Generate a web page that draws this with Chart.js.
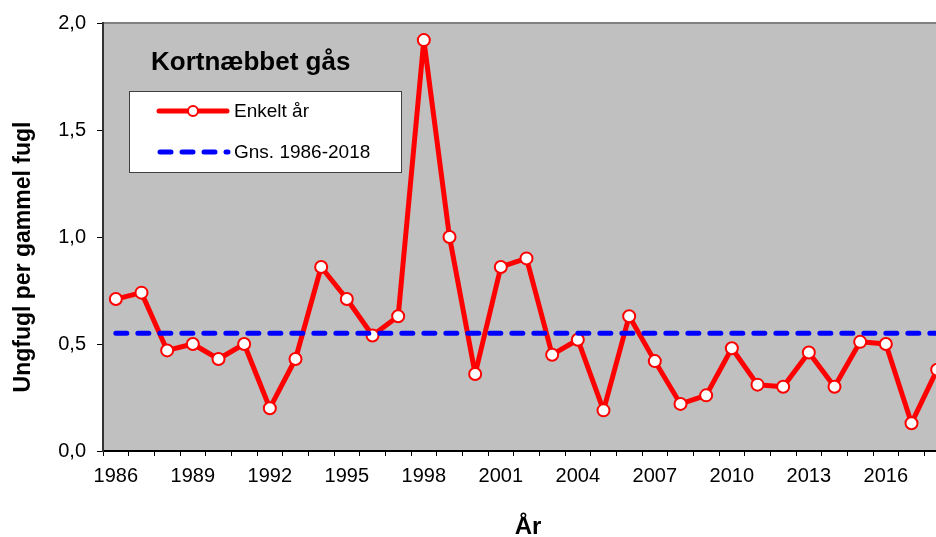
<!DOCTYPE html>
<html>
<head>
<meta charset="utf-8">
<script src="https://cdn.jsdelivr.net/npm/chart.js@4"></script>
<style>
html,body{margin:0;padding:0;background:#fff;overflow:hidden;}
#wrap{width:936px;height:537px;overflow:hidden;position:relative;}
canvas{display:block;}
</style>
</head>
<body>
<div id="wrap"><canvas id="c" width="960" height="537"></canvas></div>
<script>
const years = [1986,1987,1988,1989,1990,1991,1992,1993,1994,1995,1996,1997,1998,1999,2000,2001,2002,2003,2004,2005,2006,2007,2008,2009,2010,2011,2012,2013,2014,2015,2016,2017,2018];
const enkeltAar = [0.71,0.74,0.47,0.50,0.43,0.50,0.20,0.43,0.86,0.71,0.54,0.63,1.92,1.00,0.36,0.86,0.90,0.45,0.52,0.19,0.63,0.42,0.22,0.26,0.48,0.31,0.30,0.46,0.30,0.51,0.50,0.13,0.38];
const gennemsnit = 0.55;
const gnsSeries = years.map(() => gennemsnit);
const chartTitle = 'Kortnæbbet gås';
const seriesNames = ['Enkelt år', 'Gns. 1986-2018'];
const yTitle = 'Ungfugl per gammel fugl';
const xTitle = 'År';
const yTicks = [0, 0.5, 1.0, 1.5, 2.0];

const FONT = "'Liberation Sans', Arial, sans-serif";

const decor = {
  id: 'decor',
  beforeDraw(chart) {
    const {ctx, chartArea: a} = chart;
    ctx.save();
    ctx.fillStyle = '#C0C0C0';
    ctx.fillRect(a.left, a.top, a.right - a.left, a.bottom - a.top);
    ctx.strokeStyle = '#808080';
    ctx.lineWidth = 2;
    ctx.beginPath();
    ctx.moveTo(a.left, a.top);
    ctx.lineTo(a.right, a.top);
    ctx.lineTo(a.right, a.bottom);
    ctx.stroke();
    ctx.restore();
  },
  afterDraw(chart) {
    const {ctx, chartArea: a} = chart;
    const ds = chart.data.datasets;
    ctx.save();
    // title
    ctx.fillStyle = '#000';
    ctx.font = 'bold 26px ' + FONT;
    ctx.textBaseline = 'middle';
    ctx.textAlign = 'left';
    ctx.fillText(chartTitle, 151, 63);
    // legend box
    ctx.fillStyle = '#fff';
    ctx.fillRect(129.5, 91.5, 272, 81);
    ctx.strokeStyle = '#404040';
    ctx.lineWidth = 1;
    ctx.strokeRect(129.5, 91.5, 272, 81);
    // legend entry 1
    ctx.lineCap = 'round';
    ctx.strokeStyle = ds[0].borderColor;
    ctx.lineWidth = ds[0].borderWidth;
    ctx.beginPath(); ctx.moveTo(159, 111); ctx.lineTo(227, 111); ctx.stroke();
    ctx.beginPath(); ctx.arc(193, 111, ds[0].pointRadius - 1, 0, Math.PI * 2);
    ctx.fillStyle = ds[0].pointBackgroundColor; ctx.fill();
    ctx.lineWidth = ds[0].pointBorderWidth; ctx.strokeStyle = ds[0].pointBorderColor; ctx.stroke();
    // legend entry 2
    ctx.strokeStyle = ds[1].borderColor;
    ctx.lineWidth = ds[1].borderWidth;
    ctx.setLineDash(ds[1].borderDash);
    ctx.beginPath(); ctx.moveTo(160, 152); ctx.lineTo(228, 152); ctx.stroke();
    ctx.setLineDash([]);
    ctx.fillStyle = '#000';
    ctx.font = '19px ' + FONT;
    ctx.fillText(ds[0].label, 234, 112);
    ctx.fillText(ds[1].label, 234, 153);
    // axis titles
    ctx.font = 'bold 23px ' + FONT;
    ctx.textAlign = 'center';
    ctx.save();
    ctx.translate(24, 257);
    ctx.rotate(-Math.PI / 2);
    ctx.fillText(yTitle, 0, 0);
    ctx.restore();
    ctx.font = 'bold 24px ' + FONT;
    ctx.fillText(xTitle, 528, 527);
    ctx.restore();
  }
};

new Chart(document.getElementById('c'), {
  type: 'line',
  data: {
    labels: years.map(String),
    datasets: [
      {
        label: seriesNames[0],
        data: enkeltAar,
        borderColor: '#FF0000',
        borderWidth: 5,
        tension: 0,
        borderJoinStyle: 'round',
        pointRadius: 6,
        pointBorderWidth: 2,
        pointBackgroundColor: '#FFFFFF',
        pointBorderColor: '#FF0000',
        order: 1
      },
      {
        label: seriesNames[1],
        data: gnsSeries,
        borderColor: '#0000FF',
        borderWidth: 5,
        borderDash: [11, 11],
        borderCapStyle: 'round',
        pointRadius: 0,
        tension: 0,
        order: 0
      }
    ]
  },
  options: {
    responsive: false,
    animation: false,
    devicePixelRatio: 1,
    layout: {padding: {left: 0, right: 10, top: 22, bottom: 0}, autoPadding: false},
    plugins: {legend: {display: false}, tooltip: {enabled: false}, title: {display: false}},
    scales: {
      x: {
        type: 'category',
        offset: true,
        grid: {offset: true, drawOnChartArea: false, drawTicks: true, tickLength: 5, color: '#000', lineWidth: 1},
        border: {color: '#000', width: 2},
        ticks: {
          autoSkip: false, maxRotation: 0, minRotation: 0, padding: 8,
          color: '#000', font: {family: FONT, size: 20},
          callback: function(v, i) { return (years[i] - years[0]) % 3 === 0 ? String(years[i]) : ''; }
        },
        afterFit(s) { s.height = 86; }
      },
      y: {
        min: 0, max: 2,
        afterBuildTicks(s) { s.ticks = yTicks.map(v => ({value: v})); },
        grid: {drawOnChartArea: false, drawTicks: true, tickLength: 6, color: '#000'},
        border: {color: '#333', width: 2},
        ticks: {
          padding: 11, color: '#000', font: {family: FONT, size: 20},
          callback: v => v.toFixed(1).replace('.', ',')
        },
        afterFit(s) { s.width = 103; }
      }
    }
  },
  plugins: [decor]
});
</script>
</body>
</html>
